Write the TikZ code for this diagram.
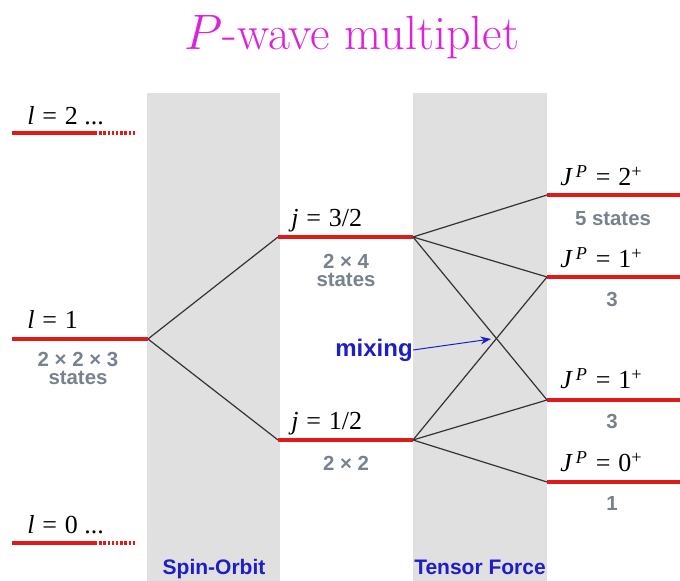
\documentclass[tikz,border=0pt]{standalone}
\usepackage{fontspec}
\setsansfont{Liberation Sans}
\newfontfamily\timesfont{Liberation Serif}
\usetikzlibrary{arrows.meta,positioning}

\definecolor{levelred}{RGB}{225,25,25}
\definecolor{stategray}{RGB}{120,130,142}
\definecolor{forceblue}{RGB}{30,30,200}
\definecolor{titlepink}{RGB}{220,35,220}

\newcommand{\eqs}{\hspace{0.3em}=\hspace{0.3em}}

\begin{document}
\begin{tikzpicture}[
  x=0.5pt, y=-0.5pt,
  band/.style={fill=gray!24, draw=none},
  level/.style={draw=levelred, line width=1.6pt},
  tail/.style={draw=levelred, line width=1.6pt, dash pattern=on 1.2pt off 0.9pt},
  link/.style={draw=black!80, line width=0.6pt},
  qn/.style={font=\timesfont\fontsize{13}{15}\selectfont, inner sep=0pt, anchor=base west},
  cnt/.style={font=\sffamily\bfseries\fontsize{10.2}{9}\selectfont, text=stategray, inner sep=0pt, align=center},
  force/.style={font=\sffamily\bfseries\fontsize{10.5}{12}\selectfont, text=forceblue, inner sep=0pt},
  >=Stealth
]
\useasboundingbox (0,0) rectangle (680,581);

% Title
\node[font=\fontsize{24}{28}\selectfont, text=titlepink, anchor=base] (title) at (352,50) {$P$-wave multiplet};

% Shaded regions
\fill[band] (147,93) rectangle (280,581);
\fill[band] (413,93) rectangle (547,581);

% Orbital levels
\coordinate (l2w) at (12,133); \coordinate (l2e) at (95,133); \coordinate (l2d) at (135,133);
\coordinate (l1w) at (12,339); \coordinate (l1e) at (148,339);
\coordinate (l0w) at (12,543); \coordinate (l0e) at (95,543); \coordinate (l0d) at (135,543);

% Spin-orbit levels
\coordinate (j3w) at (278,237); \coordinate (j3e) at (413,237);
\coordinate (j1w) at (278,440); \coordinate (j1e) at (413,440);

% Final J^P levels
\coordinate (s2w) at (547,195); \coordinate (s2e) at (680,195);
\coordinate (s1w) at (547,277); \coordinate (s1e) at (680,277);
\coordinate (t1w) at (547,400); \coordinate (t1e) at (680,400);
\coordinate (s0w) at (547,482); \coordinate (s0e) at (680,482);

% Splittings
\draw[link] (l1e) -- (j3w);
\draw[link] (l1e) -- (j1w);
\foreach \a/\b in {j3e/s2w, j3e/s1w, j3e/t1w, j1e/s1w, j1e/t1w, j1e/s0w}
  \draw[link] (\a) -- (\b);

% Levels
\draw[level] (l2w) -- (l2e);
\draw[tail] (l2e) -- (l2d);
\draw[level] (l1w) -- (l1e);
\draw[level] (l0w) -- (l0e);
\draw[tail] (l0e) -- (l0d);
\draw[level] (j3w) -- (j3e);
\draw[level] (j1w) -- (j1e);
\draw[level] (s2w) -- (s2e);
\draw[level] (s1w) -- (s1e);
\draw[level] (t1w) -- (t1e);
\draw[level] (s0w) -- (s0e);

% Quantum numbers
\node[qn] (l2lab) at (27,125) {\textit{l}\eqs 2 ...};
\node[qn] (l1lab) at (27,329) {\textit{l}\eqs 1};
\node[qn] (l0lab) at (27,534) {\textit{l}\eqs 0 ...};
\node[qn] (j3lab) at (291,227) {\textit{j}\eqs 3/2};
\node[qn] (j1lab) at (291,430) {\textit{j}\eqs 1/2};
\node[qn] (s2lab) at (560,186) {\textit{J}\textsuperscript{\,\textit{P}}\eqs 2\textsuperscript{+}};
\node[qn] (s1lab) at (560,268) {\textit{J}\textsuperscript{\,\textit{P}}\eqs 1\textsuperscript{+}};
\node[qn] (t1lab) at (560,389) {\textit{J}\textsuperscript{\,\textit{P}}\eqs 1\textsuperscript{+}};
\node[qn] (s0lab) at (560,472) {\textit{J}\textsuperscript{\,\textit{P}}\eqs 0\textsuperscript{+}};

% State counts
\node[cnt, anchor=north] (l1cnt) at (78,352) {2 × 2 × 3\\states};
\node[cnt, anchor=north] (j3cnt) at (346,254) {2 × 4\\states};
\node[cnt, anchor=north] (j1cnt) at (346,456) {2 × 2};
\node[cnt, anchor=north] (s2cnt) at (613,211) {5 states};
\node[cnt] (s1cnt) at (612,299) {3};
\node[cnt] (t1cnt) at (612,421) {3};
\node[cnt] (s0cnt) at (612,503) {1};

% Mixing
\node[force, font=\sffamily\bfseries\fontsize{12}{14}\selectfont] (mixlab) at (374,350) {mixing};
\coordinate (cross) at (491,339);
\draw[->, draw=forceblue, line width=0.5pt] (mixlab.east) -- (cross);

% Forces
\node[force, anchor=base] (solab) at (214,575) {Spin-Orbit};
\node[force, anchor=base] (tflab) at (480,575) {Tensor Force};
\end{tikzpicture}
\end{document}
